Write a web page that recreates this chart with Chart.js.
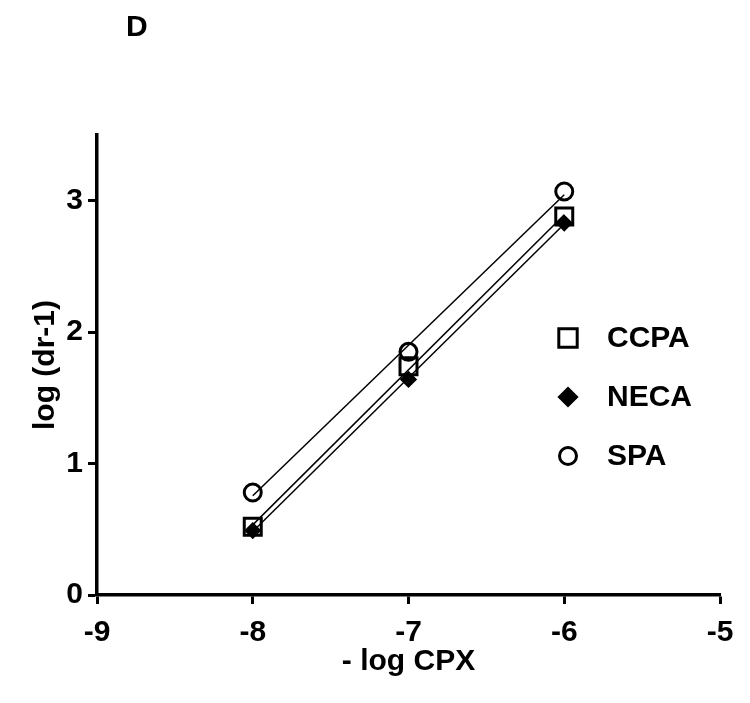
<!DOCTYPE html>
<html>
<head>
<meta charset="utf-8">
<script src="https://cdn.jsdelivr.net/npm/chart.js@4.4.1/dist/chart.umd.min.js"></script>
<style>
  html, body { margin: 0; padding: 0; background: #fff; }
  #wrap { width: 750px; height: 703px; }
</style>
</head>
<body>
<div id="wrap"><canvas id="chart" width="750" height="703"></canvas></div>
<script>
// - log CPX concentrations
const logCpx = [-8, -7, -6];
// log (dr-1) per agonist
const ccpa = [0.52, 1.74, 2.88];
const neca = [0.49, 1.64, 2.83];
const spa = [0.78, 1.85, 3.07];
const xTicks = [-9, -8, -7, -6, -5];
const yTicks = [0, 1, 2, 3];

const FONT = "'Liberation Sans', Arial, sans-serif";

// least squares line through the points, drawn between first and last x
function fitLine(xs, ys) {
  const n = xs.length;
  const mx = xs.reduce((a, b) => a + b, 0) / n;
  const my = ys.reduce((a, b) => a + b, 0) / n;
  let sxy = 0, sxx = 0;
  for (let i = 0; i < n; i++) {
    sxy += (xs[i] - mx) * (ys[i] - my);
    sxx += (xs[i] - mx) * (xs[i] - mx);
  }
  const b = sxy / sxx;
  const a = my - b * mx;
  const x0 = xs[0], x1 = xs[n - 1];
  return [{ x: x0, y: a + b * x0 }, { x: x1, y: a + b * x1 }];
}

const pts = (ys) => logCpx.map((x, i) => ({ x: x, y: ys[i] }));

const markers = [
  { label: "CCPA", data: ccpa, pointStyle: "rect", radius: 12, legendRadius: 13, fill: "rgba(0,0,0,0)" },
  { label: "NECA", data: neca, pointStyle: "rectRot", radius: 6.5, legendRadius: 8.5, fill: "#000" },
  { label: "SPA", data: spa, pointStyle: "circle", radius: 8.5, legendRadius: 8.5, fill: "rgba(0,0,0,0)" },
];

const datasets = [];
markers.forEach((m) => {
  datasets.push({
    type: "line",
    label: m.label + " fit",
    data: fitLine(logCpx, m.data),
    borderColor: "#000",
    borderWidth: 1.5,
    pointRadius: 0,
    fill: false,
  });
});
markers.forEach((m) => {
  datasets.push({
    type: "scatter",
    label: m.label,
    data: pts(m.data),
    pointStyle: m.pointStyle,
    pointRadius: m.radius,
    pointBackgroundColor: m.fill,
    pointBorderColor: "#000",
    pointBorderWidth: 3,
  });
});

// panel letter + legend inside plot
const overlay = {
  id: "overlay",
  afterDraw(chart) {
    const ctx = chart.ctx;
    ctx.save();
    ctx.fillStyle = "#000";
    ctx.font = "bold 30px " + FONT;
    ctx.textBaseline = "middle";
    ctx.textAlign = "left";
    ctx.fillText("D", 126, 28);

    markers.forEach((m, i) => {
      const y = 338 + i * 59;
      ctx.strokeStyle = "#000";
      ctx.lineWidth = 3;
      ctx.fillStyle = m.fill;
      Chart.helpers.drawPoint(ctx, {
        pointStyle: m.pointStyle,
        radius: m.legendRadius,
        rotation: 0,
        borderWidth: 3,
      }, 568, y);
      ctx.fillStyle = "#000";
      ctx.font = "bold 30px " + FONT;
      ctx.fillText(m.label, 607, y + 1);
    });
    ctx.restore();
  },
};

new Chart(document.getElementById("chart"), {
  type: "scatter",
  data: { datasets: datasets },
  options: {
    responsive: false,
    animation: false,
    layout: { padding: { top: 135, left: 28, right: 30, bottom: 23 } },
    plugins: {
      legend: { display: false },
      tooltip: { enabled: false },
    },
    scales: {
      x: {
        type: "linear",
        min: -9,
        max: -5,
        afterBuildTicks: (s) => { s.ticks = xTicks.map((v) => ({ value: v })); },
        afterFit: (s) => { s.height = 85; },
        ticks: {
          color: "#000",
          font: { family: FONT, size: 30, weight: "bold" },
          padding: 11,
          callback: (v) => String(v),
        },
        grid: { drawOnChartArea: false, tickLength: 9, tickWidth: 3, tickColor: "#000" },
        border: { color: "#000", width: 3.5 },
        title: {
          display: true,
          text: "- log CPX",
          color: "#000",
          font: { family: FONT, size: 30, weight: "bold" },
          padding: 0,
        },
      },
      y: {
        type: "linear",
        min: 0,
        max: 3.5,
        afterBuildTicks: (s) => { s.ticks = yTicks.map((v) => ({ value: v })); },
        afterFit: (s) => { s.width = 69; },
        ticks: {
          color: "#000",
          font: { family: FONT, size: 30, weight: "bold" },
          padding: 5,
          callback: (v) => String(v),
        },
        grid: { drawOnChartArea: false, tickLength: 9, tickWidth: 3, tickColor: "#000" },
        border: { color: "#000", width: 3.5 },
        title: {
          display: true,
          text: "log (dr-1)",
          color: "#000",
          font: { family: FONT, size: 30, weight: "bold" },
          padding: 0,
        },
      },
    },
  },
  plugins: [overlay],
});
</script>
</body>
</html>
